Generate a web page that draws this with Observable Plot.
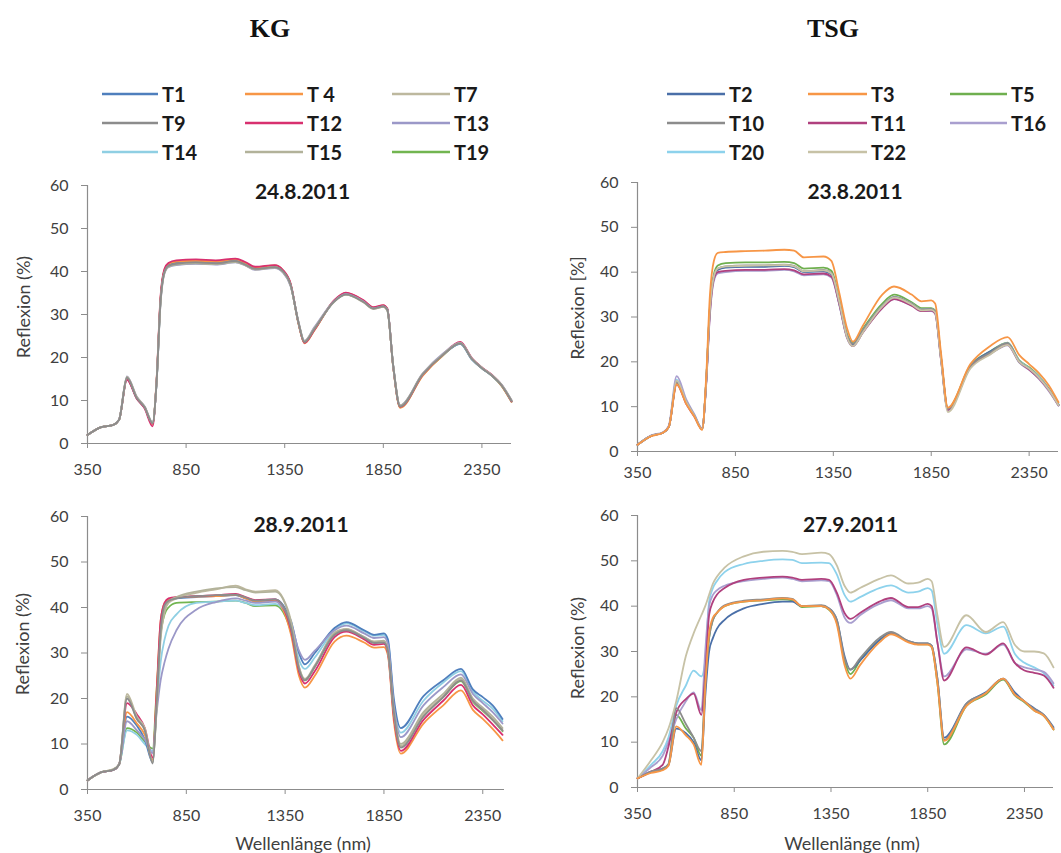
<!DOCTYPE html>
<html><head><meta charset="utf-8">
<script src="https://cdn.jsdelivr.net/npm/d3@7"></script>
<script src="https://cdn.jsdelivr.net/npm/@observablehq/plot@0.6"></script>
<style>
body{margin:0;background:#fff;}
#page{position:relative;width:1061px;height:853px;overflow:hidden;font-family:Lato,"Open Sans",sans-serif;color:#404040;background:#fff;}
.abs{position:absolute;}
.group{font-family:"Liberation Serif","DejaVu Serif",serif;font-weight:bold;font-size:26px;color:#111;transform:translate(-50%,-50%);white-space:nowrap;}
.ylab{font-size:18px;transform:translate(-50%,-50%) rotate(-90deg);white-space:nowrap;}
.xlab{font-size:18px;transform:translate(-50%,-50%);white-space:nowrap;}
.panel{position:absolute;}
</style></head>
<body><div id="page"></div>
<script>
// ---------- data ----------
const wavelengths = [350, 420, 480, 510, 550, 600, 640, 680, 700, 720, 740, 760, 800, 900, 1000, 1100, 1150, 1200, 1300, 1340, 1380, 1420, 1450, 1500, 1600, 1660, 1750, 1800, 1850, 1870, 1900, 1935, 2050, 2150, 2240, 2300, 2350, 2400, 2450, 2500];
const xTicks = [350, 850, 1350, 1850, 2350];
const yTicks = [0, 10, 20, 30, 40, 50, 60];

const kgNames = ["T1", "T 4", "T7", "T9", "T12", "T13", "T14", "T15", "T19"];
const kgColors = ["#4f7fbd", "#f79646", "#bdb89e", "#8c8c8c", "#d8306f", "#9b98c8", "#8fcfe3", "#b2b29a", "#72b550"];
const kgDrawOrder = ["T19", "T14", "T1", "T 4", "T12", "T13", "T7", "T15", "T9"];

const tsgNames = ["T2", "T3", "T5", "T10", "T11", "T16", "T20", "T22"];
const tsgColors = ["#4a6fa8", "#f79646", "#6faf4f", "#8c8c8c", "#b0407e", "#a99fcf", "#8dd2ec", "#c7c2a6"];
const tsgDrawOrder = ["T5", "T20", "T2", "T16", "T11", "T10", "T22", "T3"];

// KG 24.8.2011 (order = kgNames)
const kgAug = [
  [2, 3.8, 4.3, 5.5, 15, 10.5, 8.3, 4.6, 14, 33, 40, 41.5, 42, 42.2, 42, 42.5, 41.7, 40.7, 41.1, 40, 36.8, 28, 23.5, 26.5, 33, 34.7, 33, 31.5, 32, 31.3, 18, 8.6, 16, 20.5, 23.2, 19.5, 17.5, 15.8, 13.5, 9.8],
  [2, 3.8, 4.3, 5.5, 15.2, 10.7, 8.4, 4.5, 14.5, 33.5, 40.3, 41.8, 42.3, 42.5, 42.3, 42.8, 42, 41, 41.4, 40.3, 37, 27.8, 23.3, 26.3, 33.2, 35, 33.2, 31.6, 32.1, 31.3, 17.8, 8.3, 15.8, 20.4, 23.4, 19.7, 17.6, 15.9, 13.4, 9.7],
  [2, 3.8, 4.3, 5.5, 15.5, 10.8, 8.5, 4.8, 14, 32.5, 39.7, 41.2, 41.7, 42, 41.8, 42.3, 41.5, 40.5, 41, 40, 36.8, 28.2, 23.8, 26.8, 33, 34.6, 32.8, 31.3, 31.8, 31, 18.2, 8.8, 16.2, 20.6, 23.3, 19.6, 17.6, 15.8, 13.6, 10],
  [2, 3.8, 4.3, 5.5, 15.3, 10.6, 8.4, 4.7, 14, 32.8, 39.8, 41.3, 41.8, 42.1, 41.9, 42.4, 41.6, 40.6, 41, 40.1, 36.9, 28.1, 23.6, 26.6, 33, 34.7, 32.9, 31.4, 31.9, 31.1, 18.1, 8.6, 16.1, 20.5, 23.3, 19.6, 17.5, 15.8, 13.5, 9.9],
  [2, 3.8, 4.3, 5.5, 14.8, 10.4, 8.1, 4, 14.5, 34, 40.6, 42, 42.6, 42.8, 42.6, 43, 42.2, 41.1, 41.5, 40.4, 37.2, 28, 23.4, 26.4, 33.3, 35.1, 33.3, 31.7, 32.2, 31.4, 18, 8.5, 16, 20.6, 23.6, 19.8, 17.7, 16, 13.6, 9.8],
  [2, 3.8, 4.3, 5.6, 15.6, 10.9, 8.6, 4.9, 13.8, 32.3, 39.5, 41, 41.5, 41.8, 41.6, 42.1, 41.4, 40.4, 40.8, 39.8, 36.6, 28.3, 23.9, 27, 33.1, 34.8, 33, 31.4, 31.9, 31.2, 18.3, 8.9, 16.3, 20.8, 23.4, 19.7, 17.6, 15.9, 13.7, 10.1],
  [2, 3.8, 4.3, 5.5, 15.1, 10.6, 8.3, 4.6, 14, 33, 40, 41.4, 41.9, 42.2, 42, 42.5, 41.7, 40.7, 41.1, 40.1, 36.9, 28, 23.5, 26.5, 33, 34.8, 33, 31.5, 32, 31.2, 18, 8.6, 16, 20.5, 23.2, 19.5, 17.5, 15.8, 13.5, 9.8],
  [2, 3.8, 4.3, 5.5, 15.4, 10.7, 8.5, 4.8, 14, 32.6, 39.7, 41.1, 41.6, 41.9, 41.7, 42.2, 41.5, 40.5, 40.9, 39.9, 36.7, 28.1, 23.7, 26.7, 32.9, 34.6, 32.9, 31.3, 31.8, 31, 18.2, 8.8, 16.2, 20.6, 23.4, 19.7, 17.6, 15.9, 13.6, 10],
  [2, 3.8, 4.3, 5.5, 15, 10.5, 8.3, 4.6, 14.2, 33.2, 40.2, 41.6, 42.1, 42.4, 42.2, 42.7, 41.9, 40.9, 41.3, 40.2, 37, 27.9, 23.4, 26.4, 33.1, 34.9, 33.1, 31.5, 32, 31.3, 17.9, 8.4, 15.9, 20.4, 23.3, 19.6, 17.5, 15.8, 13.4, 9.7]
];

// TSG 23.8.2011 (order = tsgNames)
const tsgAug = [
  [1.5, 3.5, 4.2, 5.5, 15.5, 11, 8, 5, 15, 32, 39, 40.5, 41, 41.2, 41.2, 41.4, 41.1, 40, 40.2, 39.5, 33, 25.5, 23.8, 26.8, 32.3, 34.3, 32.8, 31.5, 31.6, 31.1, 20.8, 9.3, 19, 22.3, 24, 20, 18.5, 16.5, 13.8, 10.3],
  [1.5, 3.4, 4.2, 5.5, 15, 10.5, 7.8, 4.8, 16, 35, 42.5, 44.3, 44.5, 44.7, 44.8, 45, 44.8, 43.3, 43.5, 42.5, 35.5, 27.5, 24.5, 28, 35, 36.8, 35, 33.5, 33.7, 33, 22, 9.8, 19.5, 23.5, 25.5, 21.5, 19.5, 17.5, 14.8, 11],
  [1.5, 3.5, 4.2, 5.5, 15.3, 10.8, 8, 5, 15, 32.5, 39.5, 41.5, 42, 42.2, 42.2, 42.3, 42, 40.8, 41, 40.3, 34, 26.2, 24.2, 27.3, 33, 35, 33.3, 32, 32, 31.5, 21, 9.6, 19.2, 22.3, 24.3, 20.3, 18.8, 16.8, 14, 10.5],
  [1.5, 3.5, 4.2, 5.5, 15.5, 11, 8, 5, 15, 32, 39, 40.8, 41.3, 41.5, 41.5, 41.7, 41.4, 40.2, 40.5, 39.8, 33.5, 26, 24, 27, 32.5, 34.5, 33, 31.7, 31.8, 31.3, 21, 9.5, 19, 22, 24.2, 20, 18.5, 16.5, 14, 10.5],
  [1.5, 3.5, 4.2, 5.5, 15, 10.5, 7.8, 5, 14.5, 31, 38.5, 40, 40.3, 40.5, 40.5, 40.7, 40.4, 39.5, 39.7, 39, 33, 25.5, 23.5, 26.5, 32, 34, 32.5, 31.3, 31.4, 30.8, 20.5, 9.3, 18.8, 21.8, 23.8, 20, 18.3, 16.3, 13.7, 10.3],
  [1.5, 3.6, 4.3, 5.8, 16.8, 11.5, 8.3, 5.2, 14.5, 30.5, 38, 39.7, 40, 40.3, 40.3, 40.5, 40.2, 39.3, 39.5, 38.8, 32.8, 25.3, 23.5, 26.5, 32, 34, 32.5, 31.3, 31.3, 30.8, 20.5, 9.2, 18.8, 21.7, 23.7, 19.8, 18.2, 16.2, 13.5, 10.2],
  [1.5, 3.5, 4.2, 5.5, 16, 11.2, 8.2, 5, 15, 32, 39, 40.7, 41.2, 41.3, 41.3, 41.5, 41.2, 40, 40.3, 39.6, 33.3, 25.8, 24, 27, 32.5, 34.5, 33, 31.7, 31.8, 31.3, 21, 9.4, 19, 22, 24.2, 20.2, 18.6, 16.7, 14, 10.5],
  [1.5, 3.5, 4.2, 5.5, 15.8, 11, 8, 5, 15, 32, 39, 40.8, 41.3, 41.4, 41.5, 41.6, 41.3, 40.2, 40.4, 39.7, 33.5, 25.5, 23.5, 26.5, 32.3, 34.3, 32.8, 31.5, 31.6, 31, 20.5, 8.8, 18.5, 21.6, 23.8, 20, 18.5, 16.5, 13.8, 10.3]
];

// KG 28.9.2011 (order = kgNames), up to 2450 nm
const kgSep = [
  [2, 3.8, 4.3, 5.5, 16, 14, 11, 6, 20, 36, 40.5, 41.5, 42, 42.3, 42.5, 42.7, 42, 41.5, 41.8, 40.5, 37, 30, 27.5, 30, 35.5, 36.8, 35, 34, 34.3, 33, 20, 13.5, 20.5, 24, 26.5, 22, 20.3, 18.5, 15.5],
  [2, 3.8, 4.3, 5.5, 17, 14.5, 12, 6.5, 22, 37, 41, 41.8, 42.2, 42.4, 42.5, 42.8, 42, 41.3, 41.5, 39.5, 34, 25, 22.4, 25, 32.5, 33.8, 32.3, 31.2, 31.3, 29.5, 15, 7.9, 14.5, 18.5, 21.8, 17.5, 15.5, 13.3, 10.8],
  [2, 3.8, 4.5, 5.5, 21, 16, 13.5, 6, 18, 33, 39, 41, 42, 43.2, 44, 44.8, 44, 43.5, 43.8, 42, 37, 27, 24, 27, 34.5, 35.3, 33.5, 32.5, 32.5, 30.5, 17, 9.5, 16.5, 20.5, 24.3, 19.5, 17.5, 15.5, 13],
  [2, 3.8, 4.3, 5.5, 20, 15.5, 13, 5.7, 19, 35, 40.5, 41.5, 42, 42.5, 42.7, 42.8, 42.2, 41.5, 41.8, 40.3, 35.5, 26.5, 24, 27, 34, 35, 33.3, 32.2, 32.3, 30.5, 17, 9.2, 16, 20.3, 24, 19.5, 17.5, 15.3, 13],
  [2, 3.8, 4.3, 5.5, 19, 16.5, 13.5, 7, 21, 37, 41, 42, 42.3, 42.5, 42.7, 43, 42.3, 41.6, 41.8, 40, 35, 26, 23.3, 26, 33.5, 34.7, 33, 31.8, 32, 30, 16, 8.5, 15.3, 19.5, 23, 18.5, 16.5, 14.3, 12],
  [2, 3.8, 4.3, 5.5, 15, 13, 11, 8, 17, 24, 28, 31, 35, 39.5, 41.2, 42, 41.5, 41, 41.3, 40, 36.5, 30.5, 28.5, 30.5, 35, 36, 34.3, 33.3, 33.5, 32, 18.5, 11.5, 18.5, 22.5, 25.3, 21, 19, 17, 14.5],
  [2, 3.8, 4.3, 5.5, 13, 12, 10, 8.5, 18, 28, 33, 36, 38.5, 41, 41.3, 41.5, 41, 40.5, 40.8, 39.5, 35.5, 28.5, 26.5, 29, 35, 36.5, 34.8, 33.8, 34, 32.5, 19, 12.5, 19.5, 23.5, 26, 21.5, 19.5, 17.8, 15],
  [2, 3.8, 4.4, 5.5, 20.5, 15.5, 13, 6, 18.5, 34, 39.5, 41.3, 42.3, 43.5, 44.2, 44.5, 43.8, 43.3, 43.5, 41.8, 36.5, 27, 24.3, 27.3, 34.3, 35.2, 33.5, 32.5, 32.7, 30.5, 17.5, 10, 17, 21, 24.6, 20, 18, 16, 13.5],
  [2, 3.8, 4.3, 5.5, 13.5, 12.5, 10.5, 9, 22, 34, 38.5, 40, 41, 41.2, 41.3, 41.5, 41, 40.3, 40.5, 39, 34.5, 26, 24, 27, 34, 35, 33.3, 32.3, 32.5, 30.5, 17, 9.5, 16.2, 20.3, 23.8, 19.3, 17.3, 15.3, 12.8]
];

// TSG 27.9.2011 (order = tsgNames)
const tsgSep = [
  [2, 3.5, 4.2, 5, 13, 12, 10, 6, 20, 30, 33, 35, 37, 39.5, 40.5, 41, 41, 40, 40, 39.5, 37, 29, 26, 28, 32.5, 34, 32.3, 31.8, 31.8, 31.3, 24, 11, 18.5, 21, 24, 21, 19, 17.5, 16, 13.3],
  [2, 3.2, 3.8, 4.8, 13.5, 11.5, 9.5, 5, 22, 34, 37.5, 38.5, 40, 41, 41.3, 41.7, 41.5, 40, 40, 39.3, 36, 27, 24, 27, 32, 33.8, 32, 31.5, 31.5, 31, 23, 10.3, 18, 20.8, 24, 20.5, 19, 17, 15.8, 12.8],
  [2, 3.4, 4, 5, 16, 13, 11, 7, 22, 33, 37, 38.5, 40, 41, 41.3, 41.5, 41.3, 39.8, 40, 39.2, 36.5, 28, 25, 28, 32.5, 34, 32.2, 31.6, 31.6, 31, 23, 9.5, 18, 20.5, 23.8, 20.3, 18.8, 17, 15.8, 12.8],
  [2, 3.5, 4.2, 5.2, 17.5, 14, 11, 8, 23, 33, 37, 38.5, 40.2, 41.2, 41.5, 41.8, 41.6, 40, 40.2, 39.5, 37, 28.5, 26, 28.5, 33, 34.3, 32.3, 31.8, 31.8, 31.3, 24, 10.5, 18.5, 20.8, 24, 20.5, 19, 17.3, 16, 13],
  [2, 3.5, 5, 9, 16.5, 19.5, 20.7, 16, 25, 38, 41, 42.5, 44, 45.8, 46.3, 46.5, 46.3, 45.8, 46, 45.8, 43, 38.5, 37.2, 38.5, 41, 41.8, 39.8, 39.8, 40.5, 40, 32, 23.6, 30.9, 29.3, 31.8, 27.5, 25.8, 25.3, 24.7, 22],
  [2, 4.5, 7, 10, 15, 19, 21, 17, 30, 40, 42.5, 43.5, 44.5, 45.5, 46, 46.3, 46, 45.5, 45.7, 45.5, 42.5, 37.5, 36.3, 38, 40.5, 41.3, 39.5, 39.5, 40, 39.5, 32, 24.5, 30.5, 29.5, 31.5, 27.5, 26.5, 26, 25.5, 23],
  [2, 5, 8, 11, 18, 22.5, 25.8, 24.5, 28, 41, 44, 45.5, 47.5, 49.3, 50, 50.3, 50.2, 49.5, 49.6, 49.5, 47, 42.5, 41, 42, 44, 44.6, 43, 43.2, 44, 43.5, 36, 29.5, 35.8, 34, 35.5, 29.5, 27.5, 26.5, 25.2, 22.5],
  [2, 6, 10, 13, 19, 29, 34, 38, 40, 42.5, 45, 46.5, 48.5, 51, 52, 52.2, 52, 51.5, 51.8, 51.5, 49, 44.5, 43, 44, 46, 46.8, 45, 45.2, 46, 45.5, 38, 31, 38, 34.3, 36.5, 31.5, 30, 30, 29.6, 26.5]
];

// ---------- layout ----------
const page = document.getElementById("page");
function addDiv(cls, text, x, y) {
  const d = document.createElement("div");
  d.className = "abs " + cls;
  d.textContent = text;
  d.style.left = x + "px";
  d.style.top = y + "px";
  page.appendChild(d);
}
addDiv("group", "KG", 270, 29);
addDiv("group", "TSG", 833, 29);

// legends
const svgNS = "http://www.w3.org/2000/svg";
const leg = document.createElementNS(svgNS, "svg");
leg.setAttribute("width", 1061); leg.setAttribute("height", 170);
leg.style.position = "absolute"; leg.style.left = "0px"; leg.style.top = "0px";
page.appendChild(leg);
const legRows = [94, 123, 152];
function legend(names, colors, cols) {
  names.forEach((n, i) => {
    const row = Math.floor(i / 3), col = i % 3;
    const [x1, x2] = cols[col];
    const y = legRows[row];
    const l = document.createElementNS(svgNS, "line");
    l.setAttribute("x1", x1); l.setAttribute("x2", x2);
    l.setAttribute("y1", y); l.setAttribute("y2", y);
    l.setAttribute("stroke", colors[i]); l.setAttribute("stroke-width", 2.6);
    leg.appendChild(l);
    const t = document.createElementNS(svgNS, "text");
    t.setAttribute("x", x2 + 4); t.setAttribute("y", y);
    t.setAttribute("dominant-baseline", "central");
    t.setAttribute("font-family", "Lato, 'Open Sans', sans-serif");
    t.setAttribute("font-weight", "bold");
    t.setAttribute("font-size", 20);
    t.setAttribute("fill", "#1a1a1a");
    t.textContent = n;
    leg.appendChild(t);
  });
}
legend(kgNames, kgColors, [[102, 158], [245, 303], [392, 450]]);
legend(tsgNames, tsgColors, [[667, 725], [808, 867], [950, 1007]]);

function panel(cfg) {
  const data = [];
  for (const name of cfg.drawOrder) {
    const vals = cfg.values[cfg.names.indexOf(name)];
    vals.forEach((r, i) => data.push({series: name, wl: wavelengths[i], r}));
  }
  const chart = Plot.plot({
    width: cfg.width, height: cfg.height,
    marginLeft: cfg.ml, marginRight: cfg.mr, marginTop: cfg.mt, marginBottom: cfg.mb,
    style: {fontFamily: "Lato, 'Open Sans', sans-serif", fontSize: "16px", color: "#404040", background: "transparent", overflow: "visible"},
    x: {domain: cfg.xDomain, axis: null},
    y: {domain: [0, 60], axis: null},
    color: {domain: cfg.names, range: cfg.colors},
    marks: [
      Plot.ruleY([0], {stroke: "#8c8c8c", strokeWidth: 1.2}),
      Plot.ruleX([350], {y1: 0, y2: 60, stroke: "#8c8c8c", strokeWidth: 1.2}),
      Plot.axisX({ticks: xTicks, tickSize: 5, tickPadding: cfg.xPad, stroke: "#8c8c8c", fill: "#404040", tickFormat: d => String(d), label: null}),
      Plot.axisY({ticks: yTicks, tickSize: 6, tickPadding: 13, stroke: "#8c8c8c", fill: "#404040", tickFormat: d => String(d), label: null}),
      Plot.line(data, {x: "wl", y: "r", z: "series", stroke: "series", strokeWidth: 1.8, curve: "monotone-x"}),
      Plot.text([cfg.title], {text: d => d, frameAnchor: "top", dx: cfg.tdx, dy: cfg.tdy, lineAnchor: "middle", fontWeight: "bold", fontSize: 21, fill: "#1a1a1a"})
    ]
  });
  const wrap = document.createElement("div");
  wrap.className = "panel";
  wrap.style.left = cfg.left + "px";
  wrap.style.top = cfg.top + "px";
  wrap.appendChild(chart);
  page.appendChild(wrap);
}

panel({title: "24.8.2011", values: kgAug, names: kgNames, colors: kgColors, drawOrder: kgDrawOrder,
  left: 0, top: 175, width: 520, height: 308, ml: 87, mr: 9, mt: 10, mb: 40, xDomain: [350, 2500], xPad: 15, tdx: 3, tdy: 7});
panel({title: "23.8.2011", values: tsgAug, names: tsgNames, colors: tsgColors, drawOrder: tsgDrawOrder,
  left: 530, top: 172, width: 531, height: 319, ml: 107, mr: 3, mt: 10, mb: 40, xDomain: [350, 2500], xPad: 10, tdx: 7, tdy: 10});
panel({title: "28.9.2011", values: kgSep, names: kgNames, colors: kgColors, drawOrder: kgDrawOrder,
  left: 0, top: 506, width: 520, height: 323, ml: 87, mr: 16, mt: 10, mb: 40, xDomain: [350, 2460], xPad: 15, tdx: 5, tdy: 9});
panel({title: "27.9.2011", values: tsgSep, names: tsgNames, colors: tsgColors, drawOrder: tsgDrawOrder,
  left: 530, top: 505, width: 531, height: 322, ml: 107, mr: 8, mt: 10, mb: 40, xDomain: [350, 2500], xPad: 15, tdx: 5, tdy: 10});

addDiv("ylab", "Reflexion (%)", 23, 307);
addDiv("ylab", "Reflexion [%]", 577, 308);
addDiv("ylab", "Reflexion (%)", 22, 644);
addDiv("ylab", "Reflexion (%)", 577, 648);
addDiv("xlab", "Wellenlänge (nm)", 303, 843);
addDiv("xlab", "Wellenlänge (nm)", 852, 843);
</script></body></html>
